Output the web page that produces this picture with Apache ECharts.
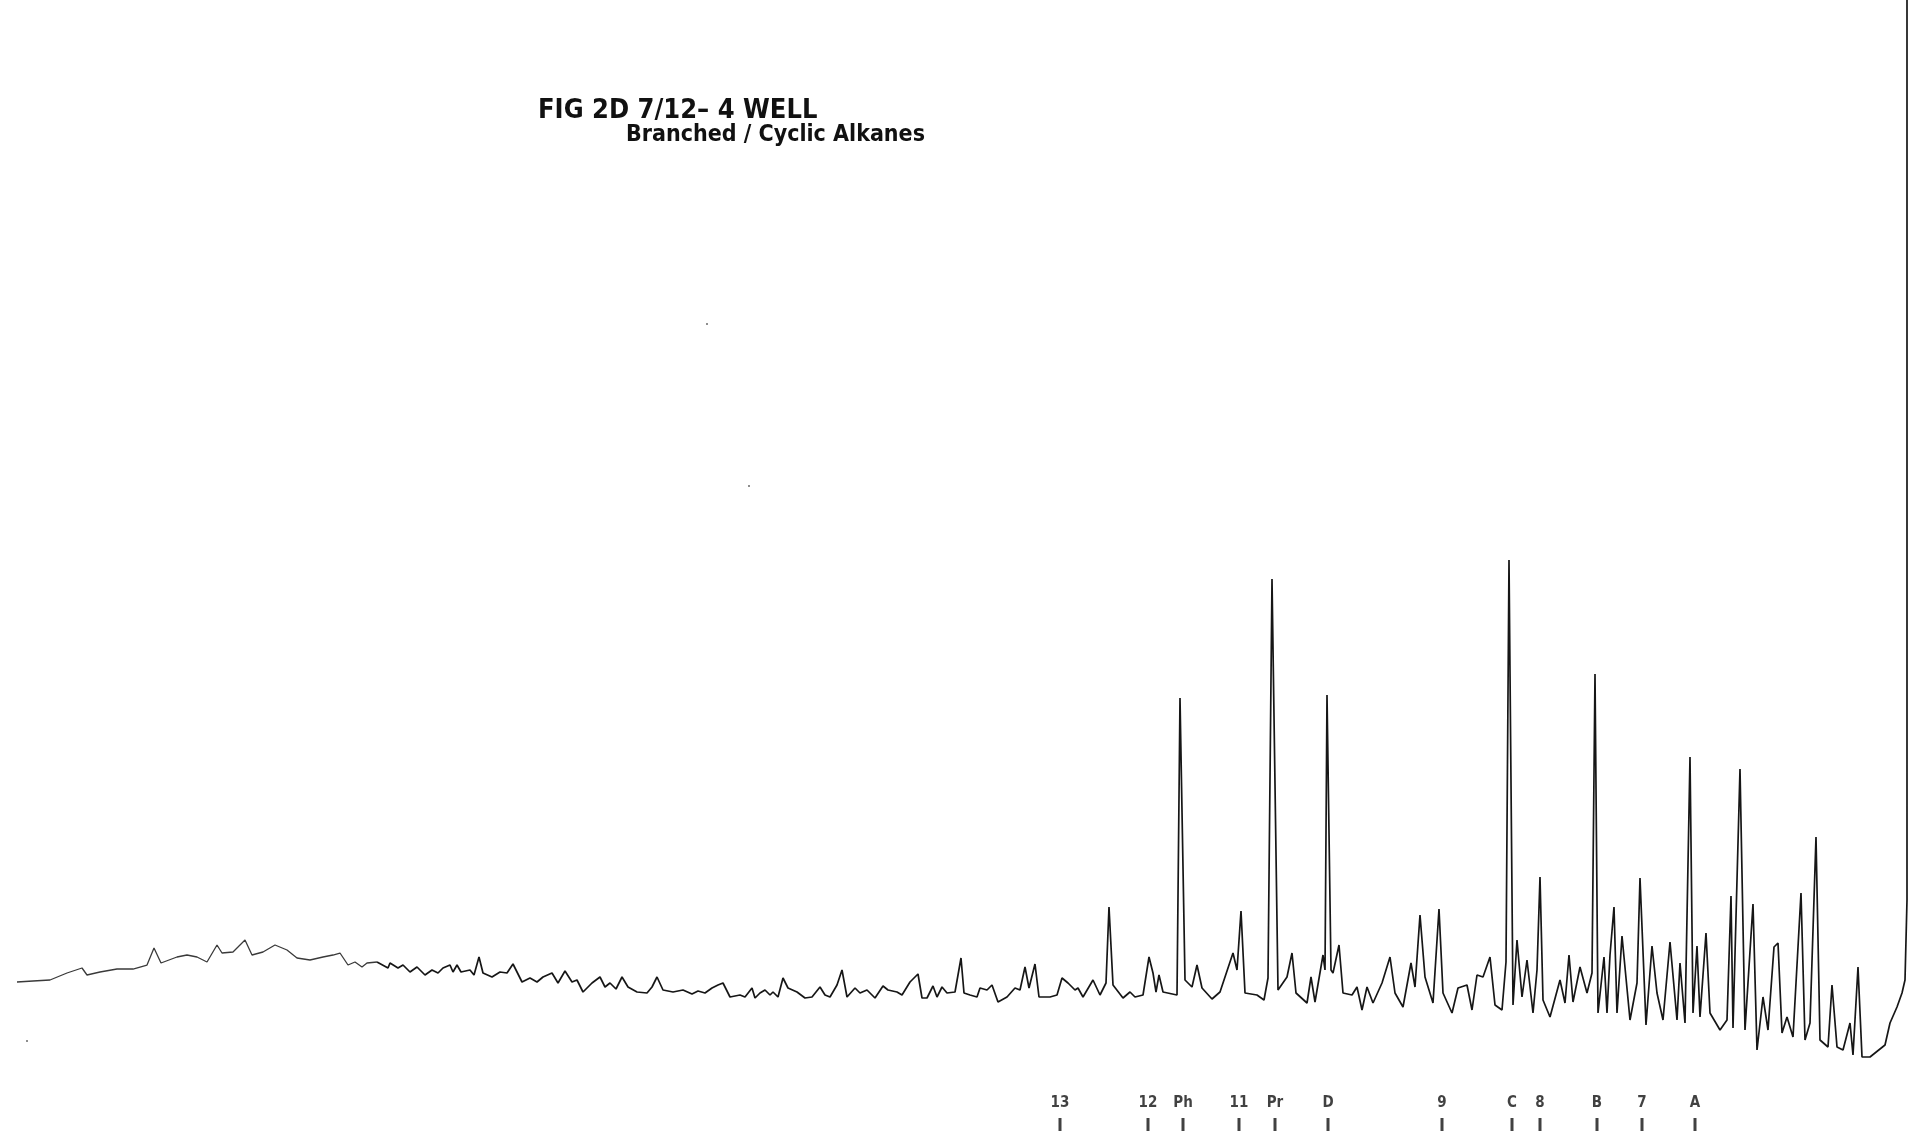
<!DOCTYPE html>
<html>
<head>
<meta charset="utf-8">
<title>FIG 2D 7/12-4 WELL</title>
<script src="https://cdn.jsdelivr.net/npm/echarts@6/dist/echarts.min.js"></script>
<style>
  html, body { margin: 0; padding: 0; background: #fff; }
  #chart { width: 1919px; height: 1131px; }
</style>
</head>
<body>
<div id="chart"></div>
<script>
// trace readings, [retention, response] (arbitrary chart units)
const earlyHump = [[17,149],[33,150],[50,151],[67,158],[82,163],[87,156],[100,159],[117,162],[133,162],[147,166],[154,183],[161,168],[177,174],[187,176],[197,174],[207,169],[217,186],[222,178],[233,179],[245,191],[252,176],[263,179],[275,186],[287,181],[297,173],[310,171],[323,174],[333,176],[340,178],[348,166],[355,169],[362,164],[367,168]];

const midTrace = [[377,169],[388,163],[390,168],[398,163],[403,166],[410,159],[417,164],[425,156],[432,161],[438,158],[443,163],[450,166],[453,159],[457,166],[461,159],[470,161],[474,156],[479,174],[483,158],[492,154],[500,159],[507,158],[513,167],[522,149],[530,153],[537,149],[543,154],[552,158],[558,148],[565,160],[572,149],[577,151],[583,139],[592,148],[600,154],[605,144],[610,148],[616,142],[622,154],[628,144],[637,139],[647,138],[652,144],[657,154],[663,141],[673,139],[683,141],[692,137],[698,140],[705,138],[712,143],[718,146],[723,148],[730,134]];

const preTrace = [[740,136],[745,134],[752,143],[755,133],[760,138],[765,141],[770,136],[773,139],[778,134],[783,153],[788,143],[797,139],[805,133],[812,134],[820,144],[825,136],[830,134],[837,146],[842,161],[847,134],[855,143],[860,138],[867,141],[875,133],[883,145],[888,141],[897,139],[902,136],[910,149],[918,157],[922,133],[927,133],[933,145],[937,134],[942,144],[947,138],[955,139],[961,173],[964,138],[970,136],[977,134],[980,143],[987,141],[992,146],[998,129],[1007,134],[1015,143],[1020,141],[1025,164],[1029,143],[1035,167],[1039,134],[1050,134],[1057,136],[1062,153],[1068,148],[1075,141],[1078,143],[1083,134],[1093,151]];

const peakTrace = [[1100,136],[1106,148],[1109,224],[1113,146],[1123,133],[1130,139],[1135,134],[1143,136],[1149,174],[1153,158],[1156,139],[1159,156],[1163,139],[1177,136],[1180,433],[1185,151],[1192,144],[1197,166],[1202,143],[1212,132],[1220,139],[1228,163],[1233,178],[1237,161],[1241,220],[1245,138],[1257,136],[1264,131],[1268,153],[1272,552],[1278,141],[1287,154],[1292,178],[1296,138],[1307,128],[1311,154],[1315,129],[1323,176],[1325,161],[1327,436],[1331,161],[1333,158],[1339,186],[1343,138],[1352,136],[1357,144],[1362,121],[1367,144],[1373,128],[1382,148],[1390,174],[1395,138],[1403,124],[1411,168],[1415,144],[1420,216],[1425,154],[1433,128],[1439,222],[1443,138],[1452,118],[1458,143],[1467,146],[1472,121],[1477,156],[1483,154],[1490,174],[1495,126]];

const lateTrace = [[1502,121],[1506,169],[1509,571],[1513,126],[1517,191],[1522,134],[1527,171],[1533,118],[1537,161],[1540,254],[1543,131],[1550,114],[1560,151],[1565,128],[1569,176],[1573,129],[1580,164],[1587,138],[1592,158],[1595,457],[1598,118],[1604,174],[1607,118],[1610,176],[1614,224],[1617,118],[1622,195],[1630,111],[1637,148],[1640,253],[1646,106],[1652,185],[1657,138],[1663,111],[1670,189],[1677,111],[1680,168],[1685,108],[1690,374],[1693,118],[1697,185],[1700,114],[1706,198],[1710,118],[1720,101],[1727,111],[1731,235],[1733,103],[1740,362],[1745,101],[1753,227],[1757,81],[1763,134],[1768,101],[1774,184],[1778,188],[1782,98],[1787,114],[1793,94],[1801,238],[1805,91],[1810,108],[1816,294],[1820,91],[1828,84],[1832,146],[1834,146],[1837,84],[1843,81],[1850,108],[1853,76],[1858,164],[1862,74],[1870,74]];

// solvent front, runs off the top
const solventTail = [[1885,86],[1890,108],[1897,124],[1902,138],[1905,151],[1907,231],[1907,1131]];

// peak identification marks
const markerNames = ['13', '12', 'Ph', '11', 'Pr', 'D', '9', 'C', '8', 'B', '7', 'A'];
const markerTimes = [1060, 1148, 1183, 1239, 1275, 1328, 1442, 1512, 1540, 1597, 1642, 1695];

// stray specks on the scan
const specks = [[707,807],[749,645],[27,90]];

const chart = echarts.init(document.getElementById('chart'));

// faint start of the trace, then the main trace
const faintPart = earlyHump.concat([midTrace[0]]);
const mainPart = [].concat(midTrace, preTrace, peakTrace, lateTrace, solventTail);
const marks = markerNames.map((n, i) => ({ name: n, value: [markerTimes[i], 6.5] }));

const option = {
  animation: false,
  backgroundColor: '#fff',
  title: [{
    text: 'FIG 2D 7/12– 4 WELL',
    left: 538,
    top: 97,
    padding: 0,
    textStyle: { fontFamily: 'DejaVu Sans Condensed', fontWeight: 'bold', fontSize: 27, color: '#111' }
  }, {
    text: 'Branched / Cyclic Alkanes',
    left: 626,
    top: 124,
    padding: 0,
    textStyle: { fontFamily: 'DejaVu Sans Condensed', fontWeight: 'bold', fontSize: 23, color: '#111' }
  }],
  grid: { left: 0, right: 0, top: 0, bottom: 0 },
  xAxis: { type: 'value', min: 0, max: 1919, show: false },
  yAxis: { type: 'value', min: 0, max: 1131, show: false },
  series: [{
    name: 'trace-start',
    type: 'line',
    data: faintPart,
    showSymbol: false,
    lineStyle: { color: '#3a3a3a', width: 1.3 }
  }, {
    name: 'trace',
    type: 'line',
    data: mainPart,
    showSymbol: false,
    clip: false,
    lineStyle: { color: '#161616', width: 1.7 }
  }, {
    name: 'markers',
    type: 'scatter',
    data: marks,
    symbol: 'rect',
    symbolSize: [3, 13],
    itemStyle: { color: '#111' },
    label: {
      show: true,
      formatter: '{b}',
      position: 'top',
      distance: 7,
      fontFamily: 'DejaVu Sans Condensed',
      fontWeight: 'bold',
      fontSize: 15,
      color: '#111'
    }
  }, {
    name: 'specks',
    type: 'scatter',
    data: specks,
    symbolSize: 2,
    itemStyle: { color: '#444' }
  }]
};

chart.setOption(option);
</script>
</body>
</html>
